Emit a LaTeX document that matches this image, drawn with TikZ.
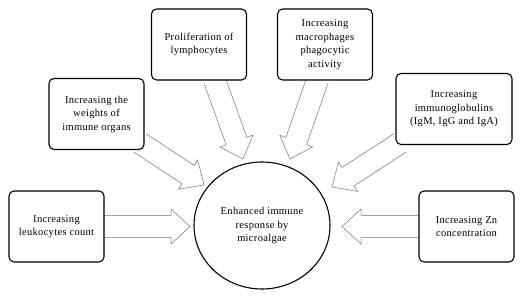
\documentclass[tikz,border=0pt]{standalone}
\usepackage{fontspec}
\setmainfont{Liberation Serif}[LetterSpace=3]
\usetikzlibrary{calc,backgrounds,shapes.geometric}

\tikzset{
  effect/.style={draw, rectangle, rounded corners=5pt, line width=1.1pt, fill=white,
    minimum width=95pt, minimum height=71pt, align=center,
    font=\fontsize{10.5}{13.5}\selectfont},
  hub/.style={draw, ellipse, line width=1.1pt, fill=white, inner sep=0pt,
    minimum width=136pt, minimum height=127pt, align=center,
    font=\fontsize{10.5}{13.5}\selectfont},
  hollow/.style={draw=black!55, line width=0.5pt, line join=miter}
}

% hollow block arrow from #1 to #2
\newcommand\fatarrow[2]{%
  \coordinate (hb) at ($(#2)!19pt!(#1)$);
  \draw[hollow] ($(#1)!11pt!90:(#2)$) -- ($(hb)!11pt!90:(#2)$) -- ($(hb)!17.5pt!90:(#2)$)
    -- (#2) -- ($(hb)!17.5pt!-90:(#2)$) -- ($(hb)!11pt!-90:(#2)$) -- ($(#1)!11pt!-90:(#2)$);
}

\begin{document}
\begin{tikzpicture}[x=1pt,y=-1pt]
\useasboundingbox (0,0) rectangle (531,299);
\node[hub] (resp) at (262,225.5) {Enhanced immune\\response by\\microalgae};
\node[effect] (prolif) at (199,44.5) {Proliferation of\\lymphocytes};
\node[effect] (macro) at (325,44.5) {Increasing\\macrophages\\phagocytic\\activity};
\node[effect] (weights) at (96.5,114) {Increasing the\\weights of\\immune organs};
\node[effect, minimum width=116pt] (immuno) at (454,109) {Increasing\\immunoglobulins\\(IgM, IgG and IgA)};
\node[effect] (leuko) at (56.5,226.5) {Increasing\\leukocytes count};
\node[effect] (zn) at (466.5,226.5) {Increasing Zn\\concentration};
% arrow ends
\coordinate (wS) at (140,143);
\coordinate (wT) at (204,185);
\coordinate (pS) at (214.5,80);
\coordinate (pT) at (243,159);
\coordinate (mS) at (317.5,80);
\coordinate (mT) at (290,159);
\coordinate (iS) at (400,143);
\coordinate (iT) at (332,187);
\coordinate (lT) at (190,226.5);
\coordinate (zT) at (342,226.5);
\begin{scope}[on background layer]
\fatarrow{leuko.east}{lT}
\fatarrow{zn.west}{zT}
\fatarrow{wS}{wT}
\fatarrow{pS}{pT}
\fatarrow{mS}{mT}
\fatarrow{iS}{iT}
\end{scope}
\end{tikzpicture}
\end{document}
